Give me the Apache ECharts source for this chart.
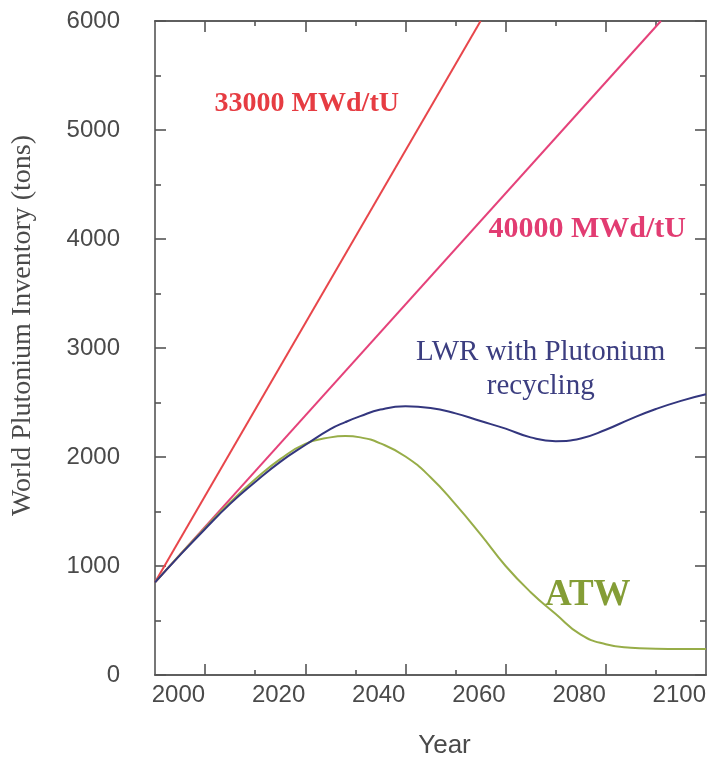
<!DOCTYPE html>
<html>
<head>
<meta charset="utf-8">
<script src="https://cdn.jsdelivr.net/npm/echarts@6/dist/echarts.min.js"></script>
<style>
  html, body { margin: 0; padding: 0; background: #ffffff; }
  #chart { width: 712px; height: 769px; }
</style>
</head>
<body>
<div id="chart"></div>
<script>
// Straight-line inventory growth for the two once-through burnups
const yearsBurnup33 = [1990, 2055];
const valuesBurnup33 = [850, 6000];

const yearsBurnup40 = [1990, 2091];
const valuesBurnup40 = [850, 6000];

// Scenario curves (tons of plutonium per year)
const yearsCurve = [1990, 1995, 2000, 2005, 2010, 2015, 2020, 2025, 2028, 2031, 2035, 2040,
                    2045, 2050, 2055, 2060, 2065, 2070, 2075, 2080, 2085, 2090, 2095, 2100];
const valuesLWR = [850, 1100, 1340, 1570, 1770, 1955, 2110, 2255, 2320, 2375, 2435, 2465,
                   2450, 2400, 2330, 2260, 2180, 2145, 2170, 2250, 2350, 2440, 2515, 2575];
const valuesATW = [850, 1105, 1350, 1585, 1795, 1980, 2120, 2180, 2192, 2180, 2125, 2005,
                   1815, 1565, 1290, 1000, 760, 560, 370, 282, 250, 241, 238, 238];

const majorYearTicks = [2000, 2020, 2040, 2060, 2080];
const minorYearTicks = [2010, 2030, 2050, 2070, 2090];
const yearLabels = [2000, 2020, 2040, 2060, 2080, 2100];

// Annotation texts and where they sit (year, tons)
const noteTexts = ['33000 MWd/tU', '40000 MWd/tU', 'LWR with Plutonium\nrecycling', 'ATW'];
const noteYears = [2020.3, 2076.3, 2067, 2076.4];
const noteValues = [5240, 4090, 2800, 730];

const axisColor = '#555555';
const textColor = '#4a4a4a';
const sansFont = "'Liberation Sans', Arial, sans-serif";
const serifFont = "'Liberation Serif', 'Times New Roman', serif";

const chart = echarts.init(document.getElementById('chart'), null, { renderer: 'canvas' });

function pairs(xs, ys) { return xs.map((x, i) => [x, ys[i]]); }
const plain = v => String(v);

function yearAxis(position, tickValues, tickLength, withLabels) {
  return {
    type: 'value',
    position: position,
    min: 1990,
    max: 2100,
    interval: 10,
    splitLine: { show: false },
    axisLine: { show: true, lineStyle: { color: axisColor, width: 1.6 } },
    axisTick: {
      show: true, inside: true, length: tickLength,
      customValues: tickValues,
      lineStyle: { color: axisColor, width: 1.6 }
    },
    axisLabel: withLabels ? {
      show: true,
      customValues: yearLabels,
      formatter: plain,
      align: 'right',
      margin: 8,
      fontFamily: sansFont,
      fontSize: 24,
      color: textColor
    } : { show: false }
  };
}

const xMainBottom = yearAxis('bottom', majorYearTicks, 11, true);
xMainBottom.name = 'Year';
xMainBottom.nameLocation = 'middle';
xMainBottom.nameGap = 58;
xMainBottom.nameTextStyle = { fontFamily: sansFont, fontSize: 26, color: textColor, padding: [0, 0, 0, 28] };

function inventoryAxis(position, withLabels) {
  const axis = {
    type: 'value',
    position: position,
    min: 0,
    max: 6000,
    interval: 1000,
    splitLine: { show: false },
    axisLine: { show: true, lineStyle: { color: axisColor, width: 1.6 } },
    axisTick: { show: true, inside: true, length: 11, lineStyle: { color: axisColor, width: 1.6 } },
    minorTick: { show: true, splitNumber: 2, length: 6, lineStyle: { color: axisColor, width: 1.6 } },
    axisLabel: withLabels
      ? { margin: 35, formatter: plain, fontFamily: sansFont, fontSize: 24, color: textColor }
      : { show: false }
  };
  if (withLabels) {
    axis.name = 'World Plutonium Inventory (tons)';
    axis.nameLocation = 'middle';
    axis.nameRotate = 90;
    axis.nameGap = 118;
    axis.nameTextStyle = { fontFamily: serifFont, fontSize: 28, color: textColor, padding: [0, 0, 0, 45] };
  }
  return axis;
}

const option = {
  backgroundColor: '#ffffff',
  animation: false,
  grid: { left: 155, right: 6, top: 21, bottom: 94 },
  xAxis: [
    xMainBottom,
    yearAxis('bottom', minorYearTicks, 5, false),
    yearAxis('top', majorYearTicks, 11, false),
    yearAxis('top', minorYearTicks, 5, false)
  ],
  yAxis: [inventoryAxis('left', true), inventoryAxis('right', false)],
  series: [
    {
      name: '33000 MWd/tU', type: 'line', xAxisIndex: 0, yAxisIndex: 0,
      data: pairs(yearsBurnup33, valuesBurnup33),
      showSymbol: false, lineStyle: { color: '#e8464b', width: 2 }, clip: true
    },
    {
      name: '40000 MWd/tU', type: 'line', xAxisIndex: 0, yAxisIndex: 0,
      data: pairs(yearsBurnup40, valuesBurnup40),
      showSymbol: false, lineStyle: { color: '#e5427a', width: 2 }, clip: true
    },
    {
      name: 'ATW', type: 'line', xAxisIndex: 0, yAxisIndex: 0,
      data: pairs(yearsCurve, valuesATW),
      smooth: 0.5, showSymbol: false, lineStyle: { color: '#97ad48', width: 2 }
    },
    {
      name: 'LWR', type: 'line', xAxisIndex: 0, yAxisIndex: 0,
      data: pairs(yearsCurve, valuesLWR),
      smooth: 0.5, showSymbol: false, lineStyle: { color: '#33367e', width: 2 }
    }
  ]
};

chart.setOption(option);

// Place the curve annotations at their data positions
const noteStyles = [
  { fill: '#e63c42', font: 'bold 28px ' + serifFont },
  { fill: '#e23c72', font: 'bold 30px ' + serifFont },
  { fill: '#3c3e80', font: 'normal 29px ' + serifFont, lineHeight: 34 },
  { fill: '#849d36', font: 'bold 37px ' + serifFont }
];
const graphics = noteTexts.map((t, i) => {
  const p = chart.convertToPixel({ xAxisIndex: 0, yAxisIndex: 0 }, [noteYears[i], noteValues[i]]);
  return {
    type: 'text',
    x: p[0], y: p[1],
    style: Object.assign({
      text: t, textAlign: 'center', textVerticalAlign: 'middle'
    }, noteStyles[i])
  };
});
chart.setOption({ graphic: graphics });
</script>
</body>
</html>
